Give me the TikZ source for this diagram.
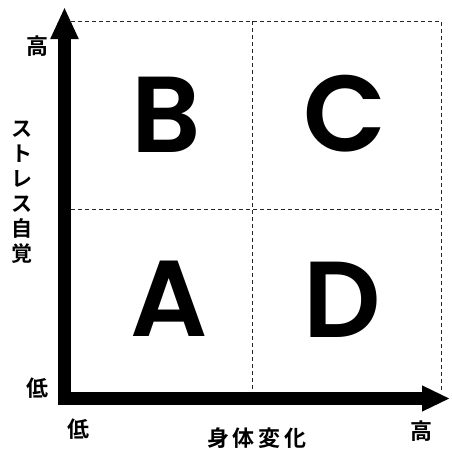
\documentclass[tikz,border=0pt]{standalone}
\usepackage{fontspec}
\newfontfamily\cjk{Noto Sans CJK JP}[BoldFont=* Bold]
\newfontfamily\letf{Poppins}[UprightFont=* SemiBold]
\usetikzlibrary{arrows.meta}
\begin{document}
\begin{tikzpicture}[x=1pt,y=-1pt,
  axis/.style={line width=12.5pt,line join=miter},
  grid/.style={line width=1pt,draw=black!85,dash pattern=on 4pt off 3pt},
  big/.style={font=\letf\fontsize{108}{108}\selectfont,inner sep=0pt},
  lab/.style={font=\cjk\bfseries\fontsize{22}{22}\selectfont,inner sep=0pt}]
\useasboundingbox (0,0) rectangle (451,455);
% grid coordinates
\coordinate (tl) at (71,21);
\coordinate (tr) at (441,21);
\coordinate (br) at (441,392);
\coordinate (mt) at (252,21);
\coordinate (mb) at (252,392);
\coordinate (ml) at (71,209);
\coordinate (mr) at (441,209);
\draw[grid] (tl) -- (tr) -- (br);
\draw[grid] (mt) -- (mb);
\draw[grid] (ml) -- (mr);
% axes
\coordinate (ytip) at (64.5,7);
\coordinate (origin) at (64.5,398.5);
\coordinate (xtip) at (450,398.5);
\draw[axis,-{Triangle[length=32pt,width=26pt]}] (origin) -- (ytip);
\draw[axis,-{Triangle[length=28pt,width=24pt]}] (origin) -- (xtip);
\fill (58,392) rectangle (71,405);
% letters
\node[big] (B) at (166,115) {B};
\node[big] (C) at (345,114) {C};
\node[big] (A) at (169,299) {A};
\node[big] (D) at (342,300) {D};
% labels
\node[lab] (yhi) at (38,46) {高};
\node[lab] (ylo) at (38,388) {低};
\node[lab] (xlo) at (78,429) {低};
\node[lab] (xhi) at (421,431) {高};
\node[lab] (xlab) at (257,438) {身\hspace{4pt}体\hspace{4pt}変\hspace{4pt}化};
\node[lab,align=center,font=\cjk\bfseries\fontsize{21}{25}\selectfont] (ylab) at (22,192) {ス\\ト\\レ\\ス\\自\\覚};
\end{tikzpicture}
\end{document}
